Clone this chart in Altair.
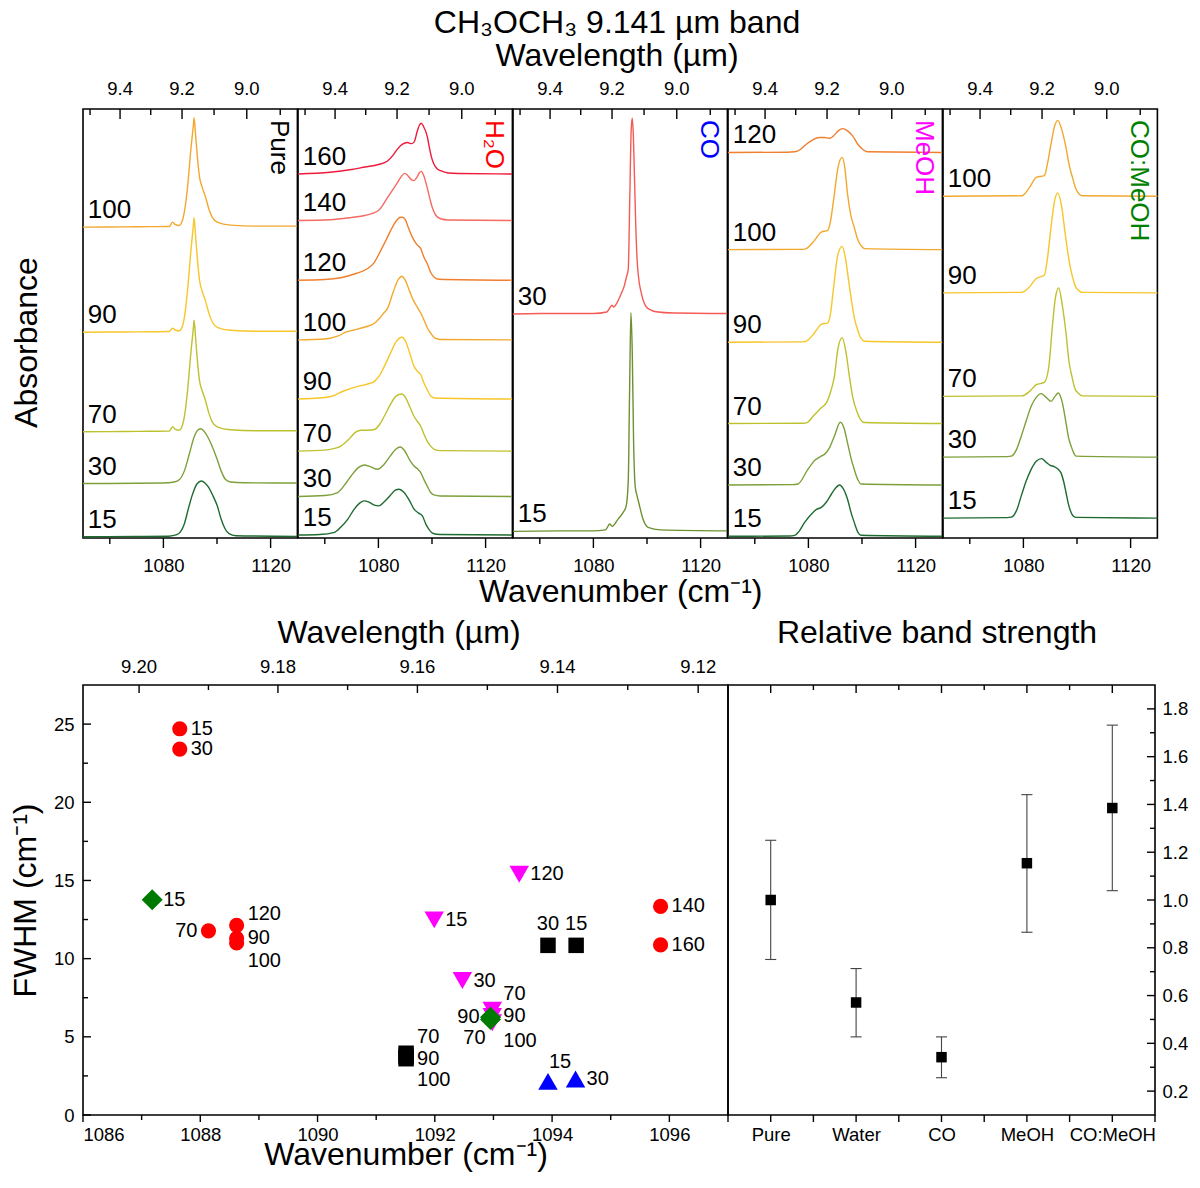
import json
import altair as alt
import pandas as pd

FONT = "Liberation Sans"

# ------------------------------------------------------------------
# Top row: spectra (wavenumber in cm-1, absorbance in arbitrary units)
# ------------------------------------------------------------------
PANEL_KEYS = ["Pure", "H2O", "CO", "MeOH", "CO:MeOH"]
PANEL_LABELS = ["Pure", "H₂O", "CO", "MeOH", "CO:MeOH"]
PANEL_LABEL_COLORS = ["#000000", "#FF0000", "#0000FF", "#FF00FF", "#008000"]

TOP_X_DOMAIN = [1050, 1130]
TOP_Y_DOMAIN = [0, 431]
TOP_WN_LABELS = [1080, 1120]
TOP_WN_MINOR = [1060, 1100]
TOP_UM_MAJOR = [9.4, 9.2, 9.0]
TOP_UM_MINOR = [9.5, 9.3, 9.1, 8.9]

# Pure
PURE_SHARP_WN = [1050, 1065, 1075, 1082.2, 1083.4, 1084.5, 1085.9, 1087.1, 1088.1, 1089.0, 1090.2,
                 1091.2, 1091.45, 1092.0, 1092.7, 1093.5, 1094.5, 1095.75, 1097.0, 1098.2, 1100.1,
                 1105, 1115, 1130]
PURE_100_A = [0, 0.3, 0.5, 0.7, 5, 2.5, 1.7, 6.7, 20, 40, 76.7, 103, 110, 93, 70, 50, 40, 30, 18, 10,
              5, 2, 1, 1]
PURE_90_A = [0, 0.3, 0.5, 0.7, 4, 2, 1.5, 6, 20, 42, 80, 108, 115, 97, 73, 52, 41, 31, 19, 10.5, 5, 2,
             1, 1]
PURE_70_A = [0, 0.3, 0.5, 0.7, 5, 2.5, 1.7, 6.5, 20, 41, 78, 105, 112, 95, 71, 51, 41, 31, 18.5, 10, 5,
             2, 1, 1]
PURE_30_WN = [1050, 1070, 1080, 1084, 1086, 1088, 1089.8, 1091.5, 1093, 1094, 1095, 1096.5, 1097.6,
              1099, 1100.1, 1101.5, 1103.2, 1105, 1110, 1130]
PURE_30_A = [0, 0.3, 0.5, 1.5, 4, 14, 31, 47, 54, 55, 53, 47, 41, 32, 24, 13, 4, 1.5, 0.8, 0.5]
PURE_15_WN = [1050, 1070, 1082, 1085, 1087.7, 1089.5, 1090.8, 1092.5, 1094.2, 1095.5, 1097, 1098.5,
              1100.1, 1101.5, 1103, 1104.5, 1107, 1130]
PURE_15_A = [0, 0.2, 0.5, 2, 12, 30, 42, 53, 56, 54, 49, 41, 31, 18, 8, 3, 1, 0.3]

# H2O
H2O_160_WN = [1050, 1062, 1070, 1075, 1080, 1083.4, 1085.5, 1087.1, 1089, 1090.8, 1092.3, 1093.3,
              1094.5, 1095.3, 1096, 1096.8, 1098.2, 1099, 1099.8, 1100.7, 1102, 1103.2, 1106, 1110, 1130]
H2O_160_A = [0, 1.7, 4.5, 7, 9.5, 13, 19, 25, 30, 31.7, 30.5, 32, 43, 49, 51, 48, 38, 27, 17, 10, 5,
             3.3, 1, 0.5, 0]
H2O_140_WN = [1050, 1062, 1070, 1075, 1080, 1083.4, 1087.1, 1088.5, 1089.8, 1091, 1092.3, 1093.3,
              1094.5, 1095.3, 1096, 1096.8, 1098.2, 1099.2, 1100.1, 1101.5, 1103.2, 1106, 1130]
H2O_140_A = [0, 0.7, 3, 5, 10, 23, 38, 44, 47.3, 45, 41, 40, 44, 48, 49.3, 46, 33, 22, 13, 5, 1.7,
             0.5, 0]
H2O_120_WN = [1050, 1060, 1066, 1071.6, 1076, 1078.5, 1080.9, 1082.8, 1084.6, 1086.5, 1088, 1089,
              1090, 1091.3, 1092.7, 1094.3, 1095.8, 1097, 1098.2, 1099.5, 1100.7, 1102.5, 1130]
H2O_120_A = [0, 0.7, 2.5, 6.7, 11.7, 18, 30, 40, 50, 59, 63, 63.3, 61, 52, 43, 36, 31.7, 23, 16.7, 8,
             3.3, 1, 0]
H2O_100_WN = [1050, 1060, 1065, 1068, 1071, 1075, 1078.5, 1080.5, 1082, 1083.4, 1085.5, 1087.5,
              1088.7, 1090, 1091.5, 1093, 1094.5, 1096, 1097, 1098.3, 1099.5, 1101, 1103, 1130]
H2O_100_A = [0, 1, 4, 8, 10, 13, 16.7, 22, 27, 31.7, 48, 61, 64, 60, 50, 40, 33, 26, 20, 12, 6.7, 2,
             0.5, 0]
H2O_90_WN = [1050, 1058, 1063, 1067, 1072.3, 1076, 1078.5, 1080.5, 1082.2, 1084.5, 1086.5, 1088.7,
             1090.3, 1091.8, 1093.3, 1094.5, 1095.8, 1097, 1098.2, 1099.5, 1101, 1130]
H2O_90_A = [0, 1, 3, 8, 12.7, 15, 17.7, 24, 32.7, 46, 57, 62, 57, 45, 32.7, 28, 24.3, 16, 9.3, 3, 1, 0]
H2O_70_WN = [1050, 1060, 1064, 1066, 1069, 1071.5, 1073.5, 1076, 1078.5, 1080.5, 1082.2, 1084.5,
             1086.5, 1088.7, 1090.3, 1091.8, 1093.3, 1094.5, 1095.8, 1097, 1098.2, 1099.5, 1101, 1103,
             1130]
H2O_70_A = [0, 1, 3, 5, 12, 19, 21, 21, 21.7, 27, 35, 47, 55, 57.3, 53, 44, 35, 30, 25, 17, 10, 5, 1.5,
            0.5, 0]
H2O_30_WN = [1050, 1060, 1064.8, 1067.5, 1069.8, 1072.5, 1074.7, 1077, 1079.7, 1082, 1084.5, 1086.5,
             1088.1, 1089.8, 1091.8, 1093.3, 1094.5, 1095.8, 1097, 1098.2, 1099.5, 1101, 1103, 1130]
H2O_30_A = [0, 1, 4, 12, 20.6, 29, 31.7, 30, 27.3, 32, 41, 47.5, 49.7, 46, 36, 30.7, 28, 24, 17, 10.6,
            4, 1.3, 0.5, 0]
H2O_15_WN = [1050, 1058, 1063.6, 1066, 1068.6, 1071, 1073, 1074.7, 1076.5, 1078.5, 1080.1, 1082,
             1084.5, 1086.3, 1087.7, 1089.5, 1091.5, 1093.3, 1095, 1096.4, 1097.7, 1098.8, 1100.5,
             1103, 1130]
H2O_15_A = [0, 0.5, 2.7, 8, 16, 26, 32, 34.3, 33, 30, 29.3, 33, 40, 45, 46, 43, 35, 26, 22, 19.3, 11, 6,
            1.5, 0.5, 0]

# CO
CO_30_WN = [1050, 1060, 1070, 1080, 1085, 1086.3, 1086.9, 1087.6, 1088.5, 1090.4, 1091.5, 1092.3,
            1093.0, 1093.6, 1094.1, 1094.5, 1094.9, 1095.4, 1095.8, 1096.3, 1096.8, 1097.9, 1099.7,
            1101.5, 1103.4, 1110, 1130]
CO_30_A = [0, 0.5, 0.5, 0.5, 2, 7, 9, 7, 10, 20.7, 28, 37, 45, 120, 185, 196.7, 180, 130, 90, 55, 38,
           20.7, 7.3, 4, 2.3, 1, 0.5]
CO_15_WN = [1050, 1070, 1080, 1084.5, 1086.1, 1087.0, 1089.2, 1091.1, 1092.2, 1093.0, 1093.5, 1094.0,
            1094.5, 1095.0, 1095.6, 1096.3, 1097.0, 1098.5, 1100.4, 1105, 1130]
CO_15_A = [0, 0.5, 0.5, 1.5, 7.3, 5, 12.3, 19, 25, 50, 140, 219.7, 180, 90, 45, 35.6, 28, 12.3, 4, 1.5,
           0.5]

# MeOH
MEOH_120_WN = [1050, 1072, 1074.9, 1077, 1079.2, 1081.5, 1084.1, 1086, 1087.8, 1089.5, 1091.2, 1092.8,
               1094.5, 1096.5, 1098.5, 1100.2, 1102, 1130]
MEOH_120_A = [0, 0.3, 0.7, 3, 8.3, 12.5, 15, 15, 14.3, 17, 22, 24, 22, 16.7, 8, 3.3, 0.7, 0]
MEOH_100_WN = [1050, 1078, 1079.2, 1082.3, 1084.8, 1087.2, 1088.2, 1089.7, 1091, 1092.6, 1093.6,
               1094.6, 1095.8, 1097.1, 1098.3, 1099.6, 1101, 1130]
MEOH_100_A = [0, 0.3, 1, 9.3, 17.7, 19.3, 28, 56, 82, 92.7, 82, 56, 35, 22.6, 11, 4.3, 1, 0]
MEOH_90_WN = [1050, 1078, 1079.2, 1082.3, 1084.8, 1087.2, 1088.2, 1089.4, 1091, 1092.6, 1093.8, 1095,
              1095.9, 1097.1, 1098.3, 1099.6, 1101, 1130]
MEOH_90_A = [0, 0.3, 1, 9.5, 18, 19.5, 28, 55, 88, 96.3, 85, 62, 45, 25, 13, 4, 1, 0]
MEOH_70_WN = [1050, 1078, 1079.5, 1082, 1084.5, 1087, 1088.3, 1089.7, 1091, 1092.6, 1094, 1095.3,
              1096.5, 1098.3, 1099.6, 1101, 1130]
MEOH_70_A = [0, 0.3, 1, 8, 15, 22.3, 32, 47.3, 75, 86.3, 72, 47.3, 27, 10.7, 3.5, 1, 0]
MEOH_30_WN = [1050, 1074, 1076.1, 1079.8, 1082.5, 1084.8, 1086, 1088, 1089.7, 1091.9, 1093.3, 1094.6,
              1095.8, 1097.1, 1098.5, 1099.6, 1130]
MEOH_30_A = [0, 0.3, 1, 15.7, 25, 29, 30.7, 38, 49, 63, 57, 42.3, 28, 15.7, 5, 1, 0]
MEOH_15_WN = [1050, 1073, 1074.9, 1076.5, 1078.6, 1081, 1083, 1084.8, 1086.6, 1088.5, 1090, 1091.6,
              1093, 1094.6, 1096, 1097.1, 1098.5, 1099.6, 1130]
MEOH_15_A = [0, 0.3, 1, 5, 14, 22, 27, 29, 34, 42, 48, 51.6, 48, 37.3, 23, 14, 4, 1, 0]

# CO:MeOH
CM_100_WN = [1050, 1079.4, 1082.3, 1084.8, 1087.8, 1089, 1090.3, 1091.6, 1092.8, 1094.2, 1095.9,
             1097.2, 1098.3, 1099.5, 1100.8, 1102, 1130]
CM_100_A = [0, 0.5, 9, 19, 20.7, 33, 52.3, 70, 76.3, 68, 49, 30, 19, 8, 2.3, 0.5, 0]
CM_90_WN = [1050, 1079.4, 1082.3, 1084.8, 1087.8, 1089, 1090.3, 1091.6, 1092.8, 1094.2, 1095.6,
            1097.2, 1098.3, 1099.5, 1100.8, 1102, 1130]
CM_90_A = [0, 0.5, 6, 14.4, 17.7, 35, 66, 92, 100.4, 88, 59.4, 30, 16, 6, 2, 0.5, 0]
CM_70_WN = [1050, 1079.4, 1082.3, 1084.8, 1087.8, 1089.5, 1090.8, 1092, 1093.2, 1094.5, 1095.9, 1097,
            1098.1, 1099.2, 1100.4, 1102, 1130]
CM_70_A = [0, 0.5, 5, 11.7, 14, 30, 70, 100, 109, 92, 63.4, 35, 20, 8, 3.3, 0.5, 0]
CM_30_WN = [1050, 1074, 1075.5, 1077.5, 1079.2, 1081, 1082.9, 1084.8, 1086.6, 1088.5, 1090.3, 1091.8,
            1093, 1094.5, 1095.9, 1096.8, 1097.8, 1098.8, 1099.6, 1130]
CM_30_A = [0, 0.5, 1, 8, 21, 36, 51, 60, 63.7, 60, 56, 61, 64.4, 55, 34.4, 20, 11, 4, 1, 0]
CM_15_WN = [1050, 1074, 1075.5, 1077.5, 1079.2, 1081, 1082.9, 1084.8, 1086.8, 1088.5, 1090, 1091.5,
            1093, 1094, 1095, 1095.9, 1096.8, 1097.8, 1098.6, 1099.5, 1130]
CM_15_A = [0, 0.5, 1, 8, 22.3, 37, 49, 57, 59.7, 56, 53, 51.7, 49, 45.7, 37, 25.7, 14, 5.7, 2, 0.7, 0]

# (panel, temperature K, vertical offset, wavenumbers, absorbance)
CURVES = [
    ("Pure", 100, 312.3, PURE_SHARP_WN, PURE_100_A),
    ("Pure", 90, 206.7, PURE_SHARP_WN, PURE_90_A),
    ("Pure", 70, 106.7, PURE_SHARP_WN, PURE_70_A),
    ("Pure", 30, 54.7, PURE_30_WN, PURE_30_A),
    ("Pure", 15, 1.3, PURE_15_WN, PURE_15_A),
    ("H2O", 160, 365.7, H2O_160_WN, H2O_160_A),
    ("H2O", 140, 319.0, H2O_140_WN, H2O_140_A),
    ("H2O", 120, 259.0, H2O_120_WN, H2O_120_A),
    ("H2O", 100, 199.0, H2O_100_WN, H2O_100_A),
    ("H2O", 90, 139.7, H2O_90_WN, H2O_90_A),
    ("H2O", 70, 87.3, H2O_70_WN, H2O_70_A),
    ("H2O", 30, 41.7, H2O_30_WN, H2O_30_A),
    ("H2O", 15, 3.0, H2O_15_WN, H2O_15_A),
    ("CO", 30, 225.0, CO_30_WN, CO_30_A),
    ("CO", 15, 6.7, CO_15_WN, CO_15_A),
    ("MeOH", 120, 387.3, MEOH_120_WN, MEOH_120_A),
    ("MeOH", 100, 289.7, MEOH_100_WN, MEOH_100_A),
    ("MeOH", 90, 196.7, MEOH_90_WN, MEOH_90_A),
    ("MeOH", 70, 115.0, MEOH_70_WN, MEOH_70_A),
    ("MeOH", 30, 53.3, MEOH_30_WN, MEOH_30_A),
    ("MeOH", 15, 1.7, MEOH_15_WN, MEOH_15_A),
    ("CO:MeOH", 100, 343.3, CM_100_WN, CM_100_A),
    ("CO:MeOH", 90, 246.3, CM_90_WN, CM_90_A),
    ("CO:MeOH", 70, 142.3, CM_70_WN, CM_70_A),
    ("CO:MeOH", 30, 81.3, CM_30_WN, CM_30_A),
    ("CO:MeOH", 15, 20.0, CM_15_WN, CM_15_A),
]

TEMP_COLORS = {15: "#1E6B30", 30: "#7DA03A", 70: "#BEC12E", 90: "#F6C62A", 100: "#F2A82E",
               120: "#F07F2E", 140: "#F56A62", 160: "#EE1A3C"}
CURVE_COLOR_OVERRIDE = {("CO", 30): "#F55B55", ("CO", 15): "#6E9030"}

# ------------------------------------------------------------------
# Bottom-left: FWHM vs peak position
# ------------------------------------------------------------------
SERIES = ["Pure", "Water", "CO", "MeOH", "CO:MeOH"]
SERIES_SHAPES = ["square", "circle", "triangle-up", "triangle-down", "diamond"]
SERIES_COLORS = ["#000000", "#FF0000", "#0000FF", "#FF00FF", "#007A00"]
SERIES_SIZES = [240, 230, 380, 380, 440]

PURE_T = [15, 30, 70, 90, 100]
PURE_PEAK = [1094.41, 1093.93, 1091.51, 1091.51, 1091.51]
PURE_FWHM = [10.85, 10.85, 3.95, 3.75, 3.6]
WATER_T = [15, 30, 70, 90, 100, 120, 140, 160]
WATER_PEAK = [1087.65, 1087.65, 1088.14, 1088.62, 1088.62, 1088.62, 1095.85, 1095.85]
WATER_FWHM = [24.7, 23.4, 11.78, 11.3, 11.0, 12.13, 13.34, 10.88]
CO_T = [15, 30]
CO_PEAK = [1093.93, 1094.40]
CO_FWHM = [2.15, 2.3]
MEOH_T = [15, 30, 70, 90, 100, 120]
MEOH_PEAK = [1091.99, 1092.47, 1092.98, 1092.98, 1092.98, 1093.44]
MEOH_FWHM = [12.48, 8.6, 6.7, 6.3, 5.9, 15.4]
COMEOH_T = [15, 70, 90]
COMEOH_PEAK = [1087.18, 1092.95, 1092.95]
COMEOH_FWHM = [13.76, 6.1, 6.25]

SC_X_DOMAIN = [1086, 1097]
SC_Y_DOMAIN = [0, 27.5]
SC_X_LABELS = [1086, 1088, 1090, 1092, 1094, 1096]
SC_X_MINOR = [1087, 1089, 1091, 1093, 1095]
SC_Y_LABELS = [0, 5, 10, 15, 20, 25]
SC_Y_MINOR = [2.5, 7.5, 12.5, 17.5, 22.5]
SC_UM_MAJOR = [9.20, 9.18, 9.16, 9.14, 9.12]
SC_UM_MINOR = [9.19, 9.17, 9.15, 9.13]

# label placement around points (style)
LABEL_PLACE = {("Water", 70): "l", ("Water", 120): "ur", ("Water", 100): "lr",
               ("MeOH", 70): "ur3", ("MeOH", 100): "lr",
               ("CO:MeOH", 90): "l", ("CO:MeOH", 70): "ll",
               ("Pure", 30): "u", ("Pure", 15): "u", ("Pure", 70): "ur2", ("Pure", 100): "lr2",
               ("Pure", 90): "r2", ("CO", 15): "uc"}
PLACE_STYLE = {"r": (11, 0, "left"), "l": (-11, 0, "right"), "ur": (11, -11, "left"),
               "lr": (11, 18, "left"), "u": (0, -21, "center"), "ll": (-5, 18, "right"),
               "uc": (1, -19, "left"), "ur2": (11, -16, "left"), "lr2": (11, 21, "left"),
               "r2": (11, 3, "left"), "ur3": (11, -16, "left")}

# ------------------------------------------------------------------
# Bottom-right: relative band strength
# ------------------------------------------------------------------
STRENGTH_CATS = ["Pure", "Water", "CO", "MeOH", "CO:MeOH"]
STRENGTH = [1.00, 0.571, 0.342, 1.154, 1.385]
STRENGTH_LO = [0.751, 0.427, 0.256, 0.865, 1.039]
STRENGTH_HI = [1.250, 0.713, 0.427, 1.441, 1.732]
ST_Y_DOMAIN = [0.1, 1.9]
ST_Y_LABELS = [0.2, 0.4, 0.6, 0.8, 1.0, 1.2, 1.4, 1.6, 1.8]
ST_Y_MINOR = [0.3, 0.5, 0.7, 0.9, 1.1, 1.3, 1.5, 1.7]

MAIN_TITLE = "CH₃OCH₃ 9.141 µm band"

PW, PH = 214.4, 429
BW1, BW2, BH = 645, 427, 430
TICK_COLOR = "black"


def rule_ticks(values, X, y0, y1, calc=None):
    c = alt.Chart(pd.DataFrame({"v": values}))
    c = c.transform_calculate(**{X.shorthand.split(":")[0]: calc or "datum.v"})
    return c.mark_rule(color=TICK_COLOR, strokeWidth=1.4).encode(x=X, y=alt.value(y0), y2=alt.value(y1))


def rule_yticks(values, Y, x0, x1):
    fld = Y.shorthand.split(":")[0]
    c = alt.Chart(pd.DataFrame({"v": values})).transform_calculate(**{fld: "datum.v"})
    return c.mark_rule(color=TICK_COLOR, strokeWidth=1.4).encode(y=Y, x=alt.value(x0), x2=alt.value(x1))


def spectra_panel(i):
    key = PANEL_KEYS[i]
    xs = alt.Scale(domain=TOP_X_DOMAIN, nice=False, zero=False)
    ys = alt.Scale(domain=TOP_Y_DOMAIN, nice=False, zero=False)
    xaxis = alt.Axis(values=TOP_WN_LABELS, format="d", ticks=False, domain=False, grid=False,
                     labelFontSize=18.5, labelPadding=18, titleFontSize=32, titlePadding=2)
    X = alt.X("wn:Q", scale=xs, axis=xaxis, title="Wavenumber (cm⁻¹)" if i == 2 else None)
    if i == 0:
        Y = alt.Y("absorb:Q", scale=ys, title="Absorbance",
                  axis=alt.Axis(labels=False, ticks=False, domain=False, grid=False,
                                titleFontSize=32, titlePadding=40, titleY=233))
    else:
        Y = alt.Y("absorb:Q", scale=ys, axis=None)

    rows, labs = [], []
    for (p, t, off, wn, a) in CURVES:
        if p != key:
            continue
        col = CURVE_COLOR_OVERRIDE.get((p, t), TEMP_COLORS[t])
        for w, v in zip(wn, a):
            rows.append({"wn": w, "absorb": off + v, "curve": str(t), "color": col})
        labs.append({"wn": 1051.8, "absorb": off, "label": str(t)})
    df = pd.DataFrame(rows)
    ldf = pd.DataFrame(labs)

    lines = alt.Chart(df).mark_line(strokeWidth=1.4, interpolate="monotone").encode(
        x=X, y=Y, color=alt.Color("color:N", scale=None), detail="curve:N")
    labels = alt.Chart(ldf).mark_text(align="left", baseline="middle", dy=-17, fontSize=26).encode(
        x=X, y=Y, text="label:N")
    layers = [lines, labels,
              rule_ticks(TOP_WN_LABELS, X, PH, PH + 10),
              rule_ticks(TOP_WN_MINOR, X, PH, PH + 6),
              rule_ticks(TOP_UM_MAJOR, X, 0, 10, "10000 / datum.v"),
              rule_ticks(TOP_UM_MINOR, X, 0, 6, "10000 / datum.v")]
    toplab = alt.Chart(pd.DataFrame({"um": TOP_UM_MAJOR})).transform_calculate(
        wn="10000 / datum.um").mark_text(fontSize=18.5, baseline="middle").encode(
        x=X, y=alt.value(-20), text=alt.Text("um:Q", format=".1f"))
    name = alt.Chart(pd.DataFrame({"n": [PANEL_LABELS[i]]})).mark_text(
        angle=90, align="left", baseline="middle", fontSize=26, color=PANEL_LABEL_COLORS[i]).encode(
        x=alt.value(PW - 18), y=alt.value(11), text="n:N")
    layers += [toplab, name]
    if i == 2:
        t1 = alt.Chart(pd.DataFrame({"t": [MAIN_TITLE]})).mark_text(
            fontSize=32, baseline="middle").encode(x=alt.value(104), y=alt.value(-86), text="t:N")
        t2 = alt.Chart(pd.DataFrame({"t": ["Wavelength (µm)"]})).mark_text(
            fontSize=32, baseline="middle").encode(x=alt.value(104), y=alt.value(-53), text="t:N")
        layers += [t1, t2]
    return alt.layer(*layers).properties(width=PW, height=PH)


# ---------------- scatter panel ----------------
def scatter_panel():
    X = alt.X("wn:Q", scale=alt.Scale(domain=SC_X_DOMAIN, nice=False, zero=False),
              title="Wavenumber (cm⁻¹)",
              axis=alt.Axis(values=SC_X_LABELS, format="d", ticks=False, domain=False, grid=False,
                            labelFontSize=18.5, labelPadding=10, titleFontSize=32, titlePadding=-4))
    Y = alt.Y("fwhm:Q", scale=alt.Scale(domain=SC_Y_DOMAIN, nice=False, zero=False),
              title="FWHM (cm⁻¹)",
              axis=alt.Axis(values=SC_Y_LABELS, format="d", ticks=False, domain=False, grid=False,
                            labelFontSize=18.5, labelPadding=9, titleFontSize=32, titlePadding=11))
    series_data = [(PURE_T, PURE_PEAK, PURE_FWHM), (WATER_T, WATER_PEAK, WATER_FWHM),
                   (CO_T, CO_PEAK, CO_FWHM), (MEOH_T, MEOH_PEAK, MEOH_FWHM),
                   (COMEOH_T, COMEOH_PEAK, COMEOH_FWHM)]
    layers = []
    lab_rows = []
    for s, (ts, pk, fw) in enumerate(series_data):
        df = pd.DataFrame({"wn": pk, "fwhm": fw, "t": ts})
        layers.append(alt.Chart(df).mark_point(
            shape=SERIES_SHAPES[s], size=SERIES_SIZES[s], color=SERIES_COLORS[s],
            filled=True, opacity=1, strokeWidth=0).encode(x=X, y=Y))
        for t, w, f in zip(ts, pk, fw):
            lab_rows.append({"wn": w, "fwhm": f, "label": str(t),
                             "place": LABEL_PLACE.get((SERIES[s], t), "r")})
    ldf = pd.DataFrame(lab_rows)
    for place, (dx, dy, align) in PLACE_STYLE.items():
        layers.append(alt.Chart(ldf).transform_filter(f"datum.place == '{place}'").mark_text(
            fontSize=20, align=align, baseline="middle", dx=dx, dy=dy).encode(
            x=X, y=Y, text="label:N"))
    layers += [rule_ticks(SC_X_LABELS, X, BH, BH + 7),
               rule_ticks(SC_X_MINOR, X, BH, BH + 5),
               rule_ticks(SC_UM_MAJOR, X, 0, 8, "10000 / datum.v"),
               rule_ticks(SC_UM_MINOR, X, 0, 5, "10000 / datum.v"),
               rule_yticks(SC_Y_LABELS, Y, 0, 8),
               rule_yticks(SC_Y_MINOR, Y, 0, 5)]
    toplab = alt.Chart(pd.DataFrame({"um": SC_UM_MAJOR})).transform_calculate(
        wn="10000 / datum.um").mark_text(fontSize=18.5, baseline="middle").encode(
        x=X, y=alt.value(-18), text=alt.Text("um:Q", format=".2f"))
    title = alt.Chart(pd.DataFrame({"t": ["Wavelength (µm)"]})).mark_text(
        fontSize=32, baseline="middle").encode(x=alt.value(316), y=alt.value(-52), text="t:N")
    layers += [toplab, title]
    return alt.layer(*layers).properties(width=BW1, height=BH)


# ---------------- band strength panel ----------------
def strength_panel():
    names = json.dumps(STRENGTH_CATS)
    X = alt.X("pos:Q", scale=alt.Scale(domain=[0.5, len(STRENGTH_CATS) + 0.5], nice=False, zero=False),
              title=None,
              axis=alt.Axis(values=list(range(1, len(STRENGTH_CATS) + 1)),
                            labelExpr=f"{names}[datum.value - 1]", ticks=False, domain=False,
                            grid=False, labelFontSize=18.5, labelPadding=10))
    Y = alt.Y("val:Q", scale=alt.Scale(domain=ST_Y_DOMAIN, nice=False, zero=False), title=None,
              axis=alt.Axis(orient="right", values=ST_Y_LABELS, format=".1f", ticks=False,
                            domain=False, grid=False, labelFontSize=18.5, labelPadding=7))
    n = len(STRENGTH_CATS)
    df = pd.DataFrame({"pos": list(range(1, n + 1)), "val": STRENGTH,
                       "lo": STRENGTH_LO, "hi": STRENGTH_HI})
    bars = alt.Chart(df).mark_rule(color="#444444", strokeWidth=1.1).encode(
        x=X, y=Y, y2="hi:Q").transform_calculate(val="datum.lo")
    caps_df = pd.DataFrame({"pos": list(range(1, n + 1)) * 2, "val": STRENGTH_LO + STRENGTH_HI})
    caps = alt.Chart(caps_df).transform_calculate(xr="datum.pos + 0.065").transform_calculate(
        pos="datum.pos - 0.065").mark_rule(color="#444444", strokeWidth=1.1).encode(
        x=X, x2="xr:Q", y=Y)
    pts = alt.Chart(df).mark_point(shape="square", size=110, filled=True, color="black",
                                   opacity=1, strokeWidth=0).encode(x=X, y=Y)
    half = [k + 0.5 for k in range(0, n + 1)]
    whole = list(range(1, n + 1))
    inner_half = [k + 0.5 for k in range(1, n)]
    layers = [bars, caps, pts,
              rule_ticks(whole, X, BH, BH + 7),
              rule_ticks(half, X, BH, BH + 7),
              rule_ticks(whole, X, 0, 8),
              rule_ticks(inner_half, X, 0, 5),
              rule_yticks(ST_Y_LABELS, Y, BW2 - 8, BW2),
              rule_yticks(ST_Y_MINOR, Y, BW2 - 5, BW2)]
    title = alt.Chart(pd.DataFrame({"t": ["Relative band strength"]})).mark_text(
        fontSize=32, baseline="middle").encode(x=alt.value(209), y=alt.value(-52), text="t:N")
    layers.append(title)
    return alt.layer(*layers).properties(width=BW2, height=BH)


top = alt.hconcat(*[spectra_panel(i) for i in range(len(PANEL_KEYS))], spacing=0, bounds="flush")
bottom = alt.hconcat(scatter_panel(), strength_panel(), spacing=0, bounds="flush")

chart = alt.vconcat(top, bottom, spacing=7).properties(
    padding={"left": 0, "top": -2, "right": 0, "bottom": 0}
).configure_view(stroke="black", strokeWidth=1.6).configure_axis(
    labelFont=FONT, titleFont=FONT, labelColor="black", titleColor="black",
    titleFontWeight="normal"
).configure_text(font=FONT, color="black")

chart.save("out.html", embed_options={"renderer": "svg", "actions": False})
